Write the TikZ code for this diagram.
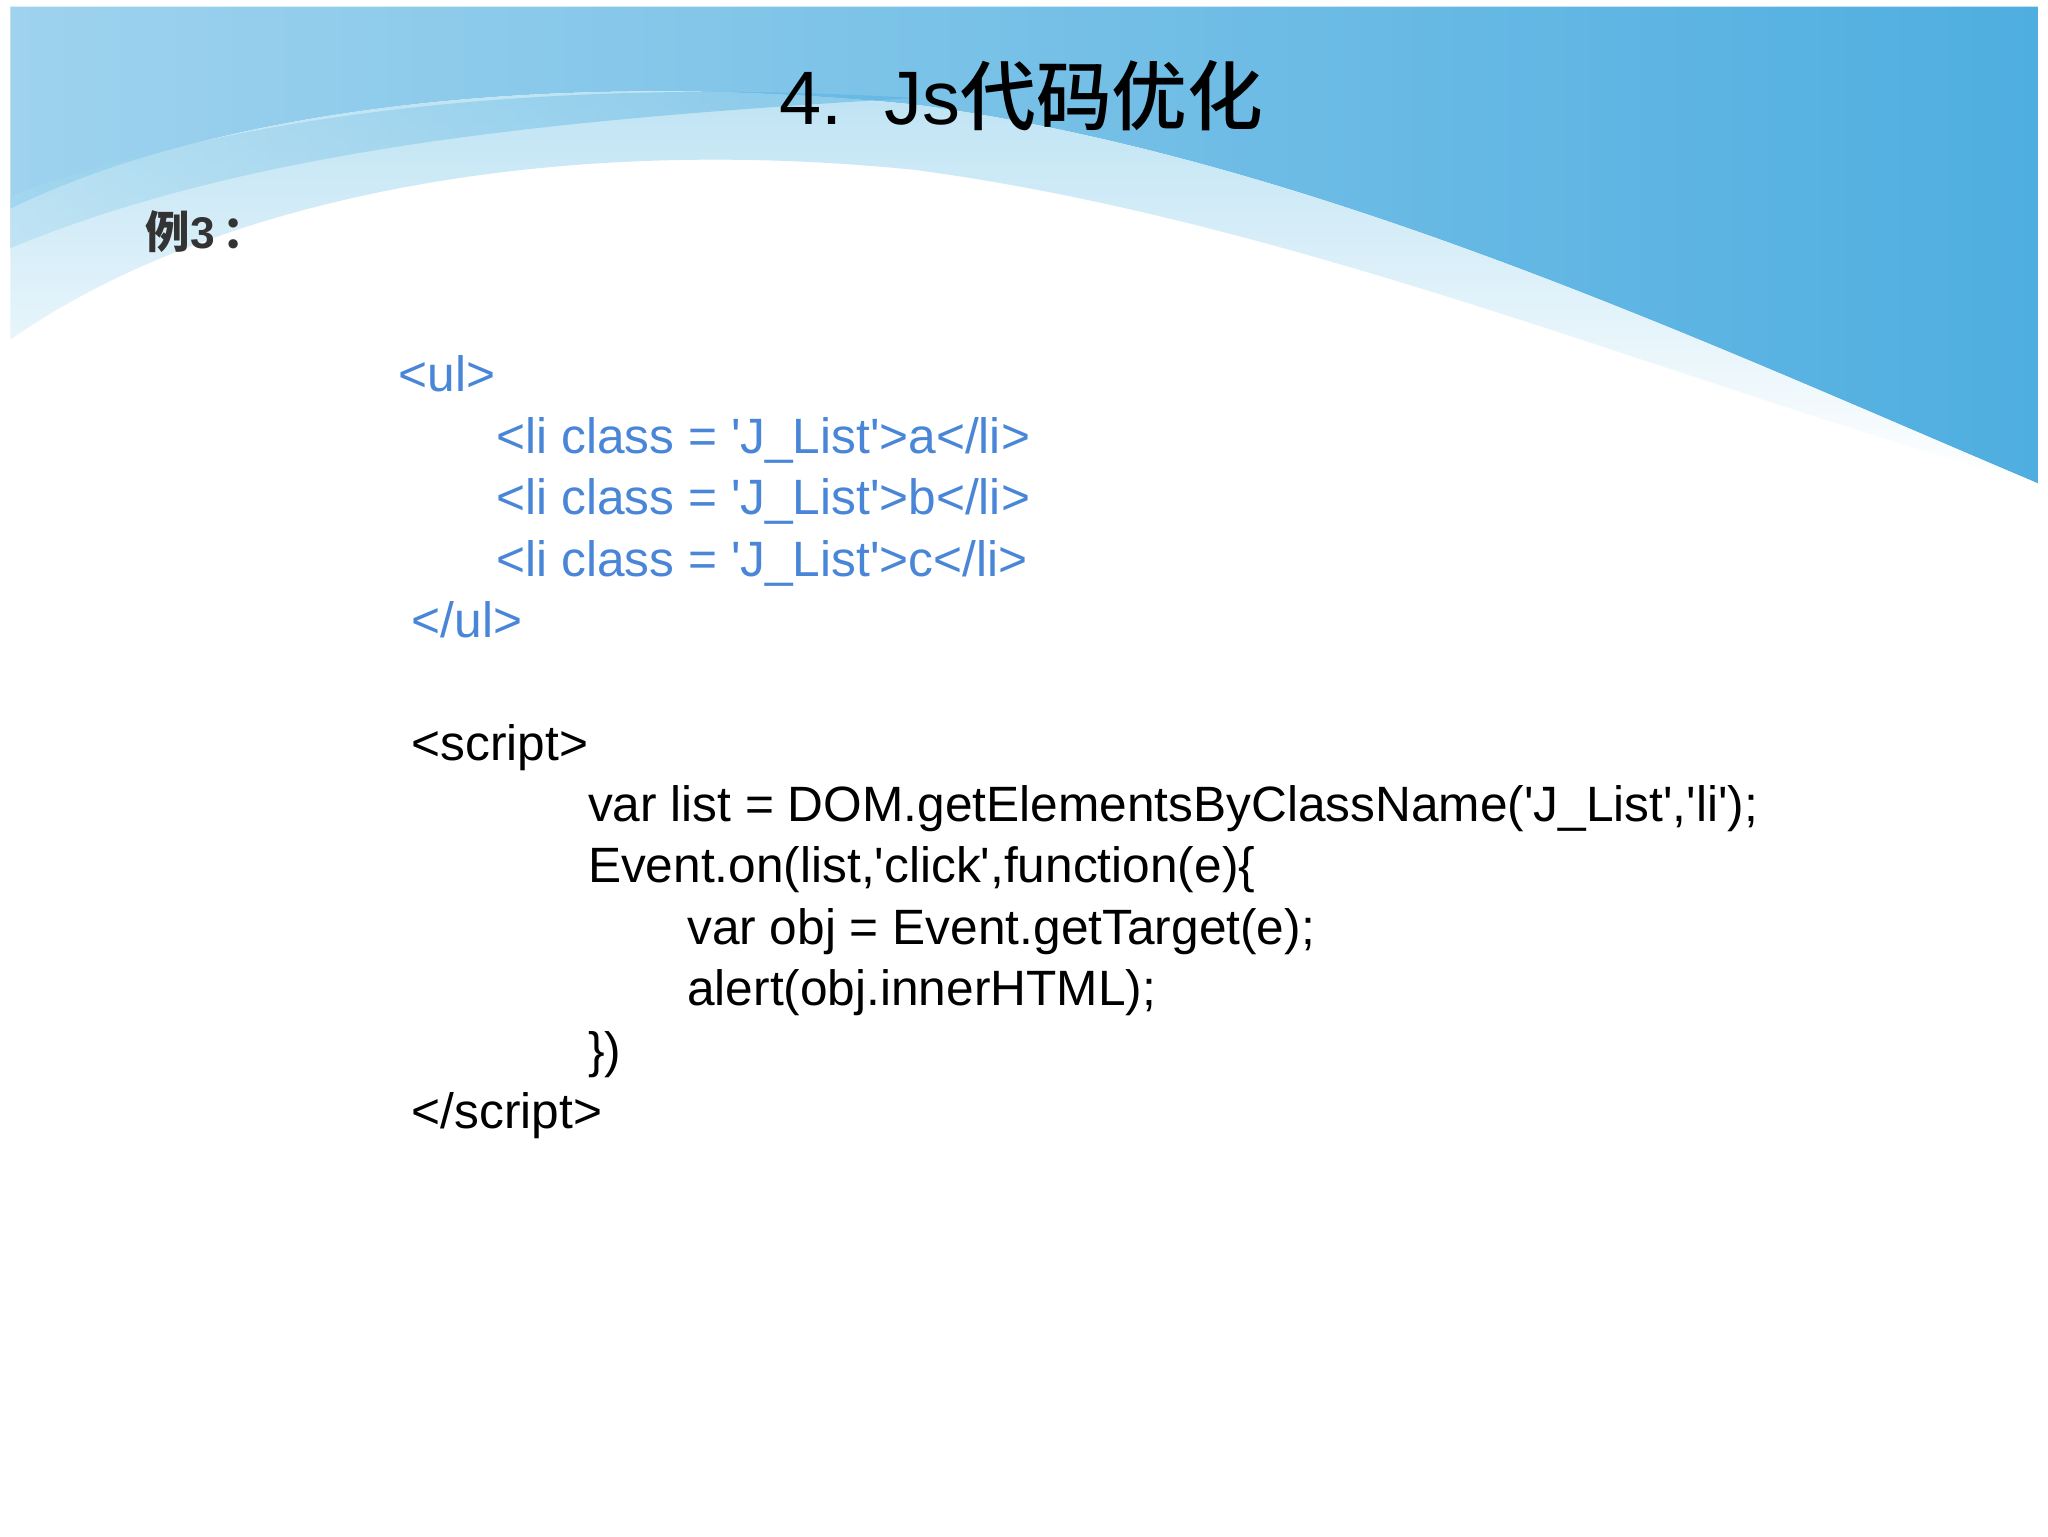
\documentclass[tikz,border=0pt]{standalone}
\usepackage{fontspec}
\setmainfont{Liberation Sans}
\newfontfamily\cjk{Noto Sans CJK SC}
\newfontfamily\cjkb{Noto Sans CJK SC Medium}
\newcommand{\sq}{\textquotesingle}
\definecolor{codeblue}{HTML}{4A86D8}
\definecolor{skyA}{HTML}{4FAEE0}
\definecolor{skyB}{HTML}{A9DAF0}
\tikzset{code/.style={anchor=base west,font=\fontsize{38}{38}\selectfont,inner sep=0pt},
 html/.style={code,text=codeblue}}
\begin{document}
\begin{tikzpicture}[x=1pt,y=-1pt]
\useasboundingbox (0,0) rectangle (1568,1176);
\fill[white] (0,0) rectangle (1568,1176);
% background swoosh
\shade[left color=skyA!55!white,right color=skyA] (8,5) -- (1560,5) -- (1560,370)
  .. controls (1300,260) and (1000,120) .. (700,80)
  .. controls (400,50) and (150,90) .. (8,160) -- cycle;
\shade[top color=skyB!80!white,bottom color=white] (8,160)
  .. controls (150,90) and (400,50) .. (700,80)
  .. controls (1000,120) and (1300,260) .. (1560,370)
  .. controls (1300,300) and (1000,170) .. (700,130)
  .. controls (400,100) and (150,160) .. (8,260) -- cycle;
\shade[left color=skyB,right color=skyA,opacity=0.5] (8,150)
  .. controls (200,80) and (450,60) .. (700,75)
  .. controls (450,90) and (200,110) .. (8,190) -- cycle;
% title
\node[anchor=base,font=\fontsize{58}{58}\selectfont] (title) at (782,95) {4.\ \ Js{\cjkb 代码优化}};
\node[anchor=base west,font=\fontsize{34}{34}\selectfont\bfseries,text=black!80] (ex) at (108,190) {{\cjkb 例}3\,{\cjkb ：}};
% html
\node[html] (h1) at (305,300) {<ul>};
\node[html] (h2) at (380,347) {<li class = \sq J\_List\sq>a</li>};
\node[html] (h3) at (380,394) {<li class = \sq J\_List\sq>b</li>};
\node[html] (h4) at (380,441) {<li class = \sq J\_List\sq>c</li>};
\node[html] (h5) at (315,488) {</ul>};
% script
\node[code] (s1) at (315,582) {<script>};
\node[code] (s2) at (450,629) {var list = DOM.getElementsByClassName(\sq J\_List\sq,\sq li\sq);};
\node[code] (s3) at (450,676) {Event.on(list,\sq click\sq,function(e)\{};
\node[code] (s4) at (526,723) {var obj = Event.getTarget(e);};
\node[code] (s5) at (526,770) {alert(obj.innerHTML);};
\node[code] (s6) at (450,817) {\})};
\node[code] (s7) at (315,864) {</script>};
\end{tikzpicture}
\end{document}
